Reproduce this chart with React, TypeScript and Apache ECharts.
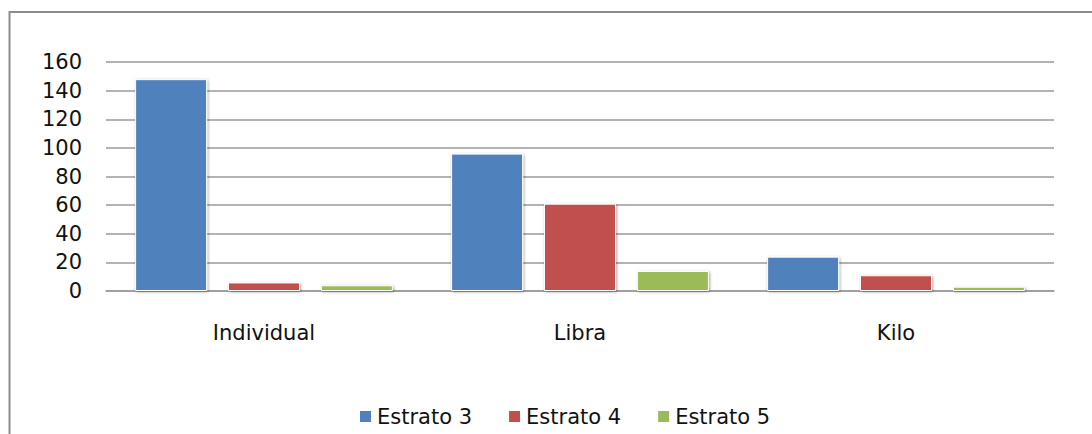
import React, { useEffect, useRef } from "react";
import * as echarts from "echarts";

const categories = ["Individual", "Libra", "Kilo"];
const seriesNames = ["Estrato 3", "Estrato 4", "Estrato 5"];
const estrato3 = [148, 96, 24];
const estrato4 = [6, 61, 11];
const estrato5 = [4, 14, 3];
const colors = ["#4F81BD", "#C0504D", "#9BBB59"];

export default function App() {
  const ref = useRef<HTMLDivElement>(null);
  useEffect(() => {
    if (!ref.current) return;
    const chart = echarts.init(ref.current, undefined, { renderer: "svg" });
    const font = "DejaVu Sans";
    const barStyle = (c: string) => ({
      color: c,
      borderColor: "#ffffff",
      borderWidth: 1,
      shadowColor: "rgba(0,0,0,0.35)",
      shadowBlur: 3,
      shadowOffsetX: 1,
      shadowOffsetY: 1,
    });
    const data = [estrato3, estrato4, estrato5];
    chart.setOption({
      animation: false,
      backgroundColor: "#ffffff",
      textStyle: { fontFamily: font },
      graphic: [
        {
          type: "rect",
          shape: { x: 9.5, y: 12, width: 2000, height: 1000 },
          style: { fill: "none", stroke: "#8c8c8c", lineWidth: 2 },
          silent: true,
        },
      ],
      grid: { left: 106, right: 38, top: 62, bottom: 143 },
      legend: {
        left: 358,
        top: 406,
        padding: 0,
        itemWidth: 13,
        itemHeight: 13,
        itemGap: 35,
        icon: "rect",
        textStyle: { fontFamily: font, fontSize: 21, color: "#111111" },
        data: seriesNames,
      },
      xAxis: {
        type: "category",
        data: categories,
        axisTick: { show: false },
        axisLine: { show: true, lineStyle: { color: "#9a9a9a", width: 1.5 } },
        axisLabel: {
          fontFamily: font,
          fontSize: 21,
          color: "#111111",
          margin: 31,
          lineHeight: 21,
        },
      },
      yAxis: {
        type: "value",
        min: 0,
        max: 160,
        interval: 20,
        axisLine: { show: false },
        axisTick: { show: false },
        axisLabel: {
          fontFamily: font,
          fontSize: 21,
          color: "#111111",
          margin: 24,
        },
        splitLine: { lineStyle: { color: "#9a9a9a", width: 1.5 } },
      },
      series: seriesNames.map((name, i) => ({
        name,
        type: "bar",
        data: data[i],
        barWidth: 72,
        barGap: "29%",
        itemStyle: barStyle(colors[i]),
      })),
    });
    return () => chart.dispose();
  }, []);
  return (
    <div
      ref={ref}
      style={{ position: "absolute", left: 0, top: 0, width: 1092, height: 434 }}
    />
  );
}
